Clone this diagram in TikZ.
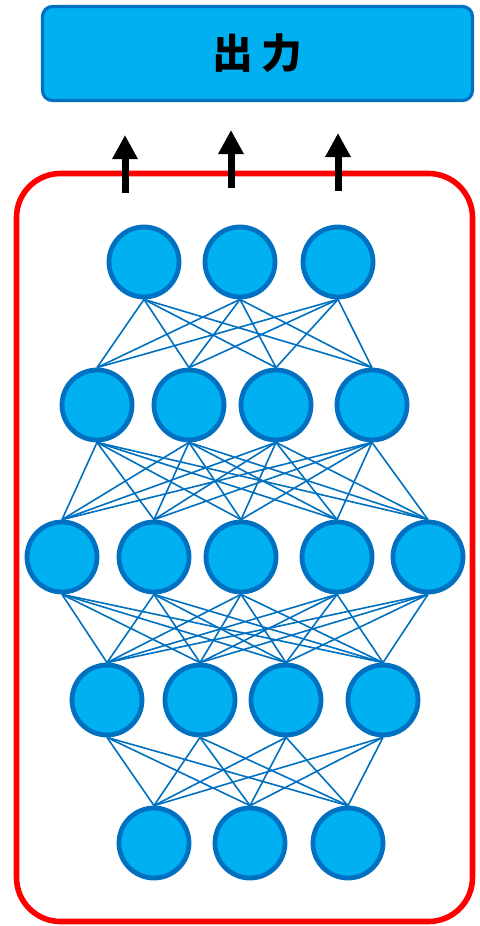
\documentclass[tikz,border=0pt]{standalone}
\usepackage{fontspec}
\newfontfamily\cjk{Noto Sans CJK JP}
\usetikzlibrary{arrows.meta,positioning}
\definecolor{skyfill}{HTML}{00B0F0}
\definecolor{skyline}{HTML}{0070C0}

\begin{document}
\begin{tikzpicture}[
  x=0.25mm, y=-0.25mm,
  outbox/.style={draw=skyline, fill=skyfill, line width=0.8mm,
                 rounded corners=2.5mm, minimum width=107.5mm,
                 minimum height=23.5mm, inner sep=0pt,
                 font=\fontsize{29}{32}\selectfont\cjk\bfseries},
  frame/.style={draw=red, line width=1.4mm, rounded corners=11mm,
                minimum width=114mm, minimum height=187mm, inner sep=0pt},
  neuron/.style={circle, draw=skyline, fill=skyfill, line width=1.2mm,
                 minimum size=17.5mm, inner sep=0pt},
  wire/.style={skyline, line width=0.4mm},
  up/.style={-{Triangle[width=6mm,length=6mm]}, line width=1.75mm}]

\useasboundingbox (0,0) rectangle (480,926);

\node[outbox] (out) at (257.5,53.5) {出\hspace{2mm}力};
\node[frame]  (net) at (244.5,547.5) {};

% layer 1 (top)
\node[neuron] (a1) at (144,262) {};
\node[neuron] (a2) at (240,262) {};
\node[neuron] (a3) at (338,262) {};
% layer 2
\node[neuron] (b1) at (97,405)  {};
\node[neuron] (b2) at (189,405) {};
\node[neuron] (b3) at (276,405) {};
\node[neuron] (b4) at (372,405) {};
% layer 3
\node[neuron] (c1) at (62,557)  {};
\node[neuron] (c2) at (154,557) {};
\node[neuron] (c3) at (241,557) {};
\node[neuron] (c4) at (337,557) {};
\node[neuron] (c5) at (428,557) {};
% layer 4
\node[neuron] (d1) at (107,700) {};
\node[neuron] (d2) at (200,700) {};
\node[neuron] (d3) at (286,700) {};
\node[neuron] (d4) at (383,700) {};
% layer 5 (bottom)
\node[neuron] (e1) at (154,843) {};
\node[neuron] (e2) at (250,843) {};
\node[neuron] (e3) at (348,843) {};

% fully connected layers
\foreach \i in {1,2,3}
  \foreach \j in {1,...,4}
    \draw[wire] (a\i.south) -- (b\j.north);
\foreach \i in {1,...,4}
  \foreach \j in {1,...,5}
    \draw[wire] (b\i.south) -- (c\j.north);
\foreach \i in {1,...,5}
  \foreach \j in {1,...,4}
    \draw[wire] (c\i.south) -- (d\j.north);
\foreach \i in {1,...,4}
  \foreach \j in {1,2,3}
    \draw[wire] (d\i.south) -- (e\j.north);

% arrows up to the output
\coordinate (s1) at (125,193);
\coordinate (s2) at (231,188);
\coordinate (s3) at (338,191);
\coordinate (t1) at (125,135);
\coordinate (t2) at (231,130);
\coordinate (t3) at (338,133);
\draw[up] (s1) -- (t1);
\draw[up] (s2) -- (t2);
\draw[up] (s3) -- (t3);
\end{tikzpicture}
\end{document}
